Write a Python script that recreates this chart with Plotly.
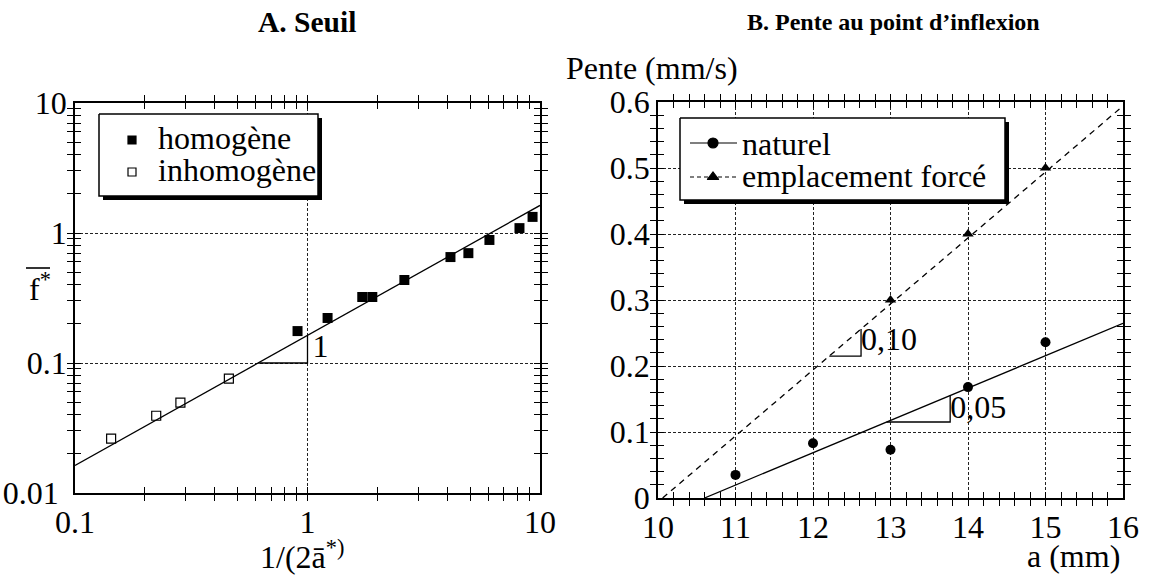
import plotly.graph_objects as go

# ---- Panel A: threshold (log-log) ----
homog_x = [0.906, 1.22, 1.72, 1.90, 2.61, 4.12, 4.92, 6.06, 8.16, 9.29]
homog_y = [0.176, 0.222, 0.322, 0.322, 0.435, 0.653, 0.70, 0.884, 1.09, 1.33]
inhomog_x = [0.143, 0.2235, 0.284, 0.459]
inhomog_y = [0.0262, 0.0393, 0.0495, 0.0757]
fitA_coef = 0.163          # f* = coef * 1/(2a*), slope 1 in log-log
fitA_x = [0.1, 10.0]

# ---- Panel B: slope at the inflection point ----
a_nat = [11, 12, 13, 14, 15]
pente_nat = [0.035, 0.083, 0.073, 0.168, 0.236]
a_force = [13, 14, 15]
pente_force = [0.30, 0.40, 0.50]
nat_slope, nat_x0 = 0.049, 10.6
force_slope, force_x0 = 0.10, 10.06

# ---- tick labels ----
xA_major = [0.1, 1, 10]
xA_labels = ["0.1", "1", "10"]
yA_major = [0.01, 0.1, 1, 10]
yA_labels = ["0.01\u00a0", "0.1", "1", "10"]
xB_major = [10, 11, 12, 13, 14, 15, 16]
yB_major = [0, 0.1, 0.2, 0.3, 0.4, 0.5, 0.6]

W, H = 1153, 588
FONT = "Liberation Serif"
FS = 32  # body text size


def px(x):
    return x / W


def py(y):
    return 1 - y / H


def log_ticks(major, labels):
    """All decade sub-ticks (1..9 x 10^k) with labels only on the decades."""
    vals, text = [], []
    for i, m in enumerate(major):
        vals.append(m)
        text.append(labels[i])
        if i < len(major) - 1:
            for k in range(2, 10):
                vals.append(m * k)
                text.append("")
    return vals, text


def lin_ticks(major, nsub, fmt):
    vals, text = [], []
    for i, m in enumerate(major):
        vals.append(m)
        text.append(fmt(m))
        if i < len(major) - 1:
            step = (major[i + 1] - m) / nsub
            for k in range(1, nsub):
                vals.append(round(m + k * step, 6))
                text.append("")
    return vals, text


xA_vals, xA_text = log_ticks(xA_major, xA_labels)
yA_vals, yA_text = log_ticks(yA_major, yA_labels)
xB_vals, xB_text = lin_ticks(xB_major, 5, lambda v: str(v))
yB_vals, yB_text = lin_ticks(yB_major, 5, lambda v: "0" if v == 0 else f"{v:.1f}")

fig = go.Figure()
line_k = dict(color="black", width=1.3)

# fitted line, panel A
fig.add_trace(go.Scatter(x=fitA_x, y=[fitA_coef * v for v in fitA_x], mode="lines",
                         line=line_k, xaxis="x", yaxis="y", hoverinfo="skip"))
# slope triangle, panel A
tri_x0 = 0.1 / fitA_coef
fig.add_trace(go.Scatter(x=[tri_x0, 1.0, 1.0], y=[0.1, 0.1, fitA_coef], mode="lines",
                         line=line_k, xaxis="x", yaxis="y", hoverinfo="skip"))
fig.add_trace(go.Scatter(x=[1.05], y=[0.128], mode="text", text=["1"],
                         textposition="middle right",
                         textfont=dict(family=FONT, size=FS, color="black"),
                         xaxis="x", yaxis="y"))
fig.add_trace(go.Scatter(x=homog_x, y=homog_y, mode="markers", name="homogène",
                         marker=dict(symbol="square", size=10, color="black"),
                         xaxis="x", yaxis="y"))
fig.add_trace(go.Scatter(x=inhomog_x, y=inhomog_y, mode="markers", name="inhomogène",
                         marker=dict(symbol="square-open", size=9, color="black",
                                     line=dict(width=1.2)),
                         xaxis="x", yaxis="y"))

# fitted lines, panel B
nat_line_x = [nat_x0, 16.0]
force_line_x = [force_x0, 16.0]
fig.add_trace(go.Scatter(x=nat_line_x, y=[nat_slope * (v - nat_x0) for v in nat_line_x],
                         mode="lines", line=line_k, xaxis="x2", yaxis="y2", hoverinfo="skip"))
fig.add_trace(go.Scatter(x=force_line_x, y=[force_slope * (v - force_x0) for v in force_line_x],
                         mode="lines", line=dict(color="black", width=1.3, dash="6px,5px"),
                         xaxis="x2", yaxis="y2", hoverinfo="skip"))
# slope triangles, panel B
tn = [12.95, 13.77]
fig.add_trace(go.Scatter(x=[tn[0], tn[1], tn[1]],
                         y=[nat_slope * (tn[0] - nat_x0), nat_slope * (tn[0] - nat_x0),
                            nat_slope * (tn[1] - nat_x0)],
                         mode="lines", line=line_k, xaxis="x2", yaxis="y2", hoverinfo="skip"))
tf = [12.21, 12.62]
fig.add_trace(go.Scatter(x=[tf[0], tf[1], tf[1]],
                         y=[force_slope * (tf[0] - force_x0), force_slope * (tf[0] - force_x0),
                            force_slope * (tf[1] - force_x0)],
                         mode="lines", line=line_k, xaxis="x2", yaxis="y2", hoverinfo="skip"))
fig.add_trace(go.Scatter(x=[tf[1], tn[1]], y=[0.236, 0.134], mode="text",
                         text=["0,10", "0,05"], textposition="middle right",
                         textfont=dict(family=FONT, size=FS, color="black"),
                         xaxis="x2", yaxis="y2"))
fig.add_trace(go.Scatter(x=a_nat, y=pente_nat, mode="markers", name="naturel",
                         marker=dict(symbol="circle", size=10, color="black"),
                         xaxis="x2", yaxis="y2"))
fig.add_trace(go.Scatter(x=a_force, y=pente_force, mode="markers", name="emplacement forcé",
                         marker=dict(symbol="triangle-up", size=10, color="black"),
                         xaxis="x2", yaxis="y2"))

# empty traces that register the grid-only overlay axes
for xa, ya in [("x3", "y"), ("x", "y3"), ("x4", "y2"), ("x2", "y4")]:
    fig.add_trace(go.Scatter(x=[None], y=[None], xaxis=xa, yaxis=ya, hoverinfo="skip"))

# ---- framed legends with drop shadow, drawn on a pixel-space overlay ----
# box: (left, top, right, bottom) in pixels; rows: (symbol, dash, y_sym, y_text, label)
legends = [
    dict(box=(99, 114, 318, 196), sym_x=132, text_x=156, line=False,
         rows=[("square", None, 140, 138, "homogène"),
               ("square-open", None, 172, 170, "inhomogène")]),
    dict(box=(680, 118, 1005, 200), sym_x=713, text_x=740, line=True,
         rows=[("circle", "solid", 143, 144, "naturel"),
               ("triangle-up", "4px,3px", 177, 176, "emplacement forcé")]),
]
SH = 4  # shadow offset
ann = []
for lg in legends:
    l, t, r, b = lg["box"]
    fig.add_trace(go.Scatter(x=[l + SH, r + SH, r + SH, l + SH, l + SH],
                             y=[t + SH, t + SH, b + SH, b + SH, t + SH],
                             mode="lines", fill="toself", fillcolor="black",
                             line=dict(width=0, color="black"),
                             xaxis="x5", yaxis="y5", hoverinfo="skip"))
    fig.add_trace(go.Scatter(x=[l, r, r, l, l], y=[t, t, b, b, t],
                             mode="lines", fill="toself", fillcolor="white",
                             line=dict(width=1.5, color="black"),
                             xaxis="x5", yaxis="y5", hoverinfo="skip"))
    for sym, dash, ys, yt, label in lg["rows"]:
        if lg["line"]:
            fig.add_trace(go.Scatter(x=[lg["sym_x"] - 23, lg["sym_x"] + 24], y=[ys, ys],
                                     mode="lines", line=dict(color="black", width=1.2, dash=dash),
                                     xaxis="x5", yaxis="y5", hoverinfo="skip"))
        msize = 10 if lg["line"] else 8
        fig.add_trace(go.Scatter(x=[lg["sym_x"]], y=[ys], mode="markers",
                                 marker=dict(symbol=sym, size=msize, color="black",
                                             line=dict(width=1.2, color="black")),
                                 xaxis="x5", yaxis="y5", hoverinfo="skip"))
        ann.append(dict(text=label, x=px(lg["text_x"]), y=py(yt), xanchor="left",
                        font=dict(size=FS)))

# frame + inside ticks on all four sides (no grid)
axis_ticks = dict(
    showline=True, linecolor="black", linewidth=1.6, mirror="allticks",
    ticks="inside", ticklen=6, tickwidth=1.3, tickcolor="black",
    showgrid=False, zeroline=False, automargin=False, tickmode="array",
    tickfont=dict(family=FONT, size=FS, color="black"),
)
# dotted grid at the labelled values only
axis_grid = dict(
    showline=False, ticks="", showticklabels=False, zeroline=False, automargin=False,
    showgrid=True, gridcolor="#222", gridwidth=1, griddash="3px,2px", tickmode="array",
)

dA_x = [px(75), px(540)]
dA_y = [py(493), py(103)]
dB_x = [px(658), px(1123)]
dB_y = [py(498), py(102)]

fig.update_layout(
    width=W, height=H,
    margin=dict(l=0, r=0, t=0, b=0, pad=0),
    paper_bgcolor="white", plot_bgcolor="rgba(0,0,0,0)",
    font=dict(family=FONT, color="black"),
    showlegend=False,
    xaxis=dict(axis_ticks, type="log", range=[-1, 1], domain=dA_x,
               tickvals=xA_vals, ticktext=xA_text, anchor="y"),
    yaxis=dict(axis_ticks, type="log", range=[-2, 1], domain=dA_y,
               tickvals=yA_vals, ticktext=yA_text, anchor="x"),
    xaxis3=dict(axis_grid, type="log", range=[-1, 1], domain=dA_x,
                tickvals=xA_major, overlaying="x", anchor="y"),
    yaxis3=dict(axis_grid, type="log", range=[-2, 1], domain=dA_y,
                tickvals=yA_major, overlaying="y", anchor="x"),
    xaxis2=dict(axis_ticks, range=[10, 16], domain=dB_x,
                tickvals=xB_vals, ticktext=xB_text, anchor="y2"),
    yaxis2=dict(axis_ticks, range=[0, 0.6], domain=dB_y,
                tickvals=yB_vals, ticktext=yB_text, anchor="x2"),
    xaxis4=dict(axis_grid, range=[10, 16], domain=dB_x,
                tickvals=xB_major, overlaying="x2", anchor="y2"),
    yaxis4=dict(axis_grid, range=[0, 0.6], domain=dB_y,
                tickvals=yB_major, overlaying="y2", anchor="x2"),
    xaxis5=dict(range=[0, W], domain=[0, 1], visible=False, anchor="y5", automargin=False),
    yaxis5=dict(range=[H, 0], domain=[0, 1], visible=False, anchor="x5", automargin=False),
)

ann.append(dict(text="<b>A. Seuil</b>", x=px(307), y=py(22), font=dict(size=29.5)))
ann.append(dict(text="<b>B. Pente au point d’inflexion</b>", x=px(893), y=py(22),
                font=dict(size=24)))
ann.append(dict(text="Pente (mm/s)", x=px(564), y=py(68), xanchor="left", font=dict(size=FS)))
ann.append(dict(text="a (mm)", x=px(1122), y=py(556), xanchor="right", font=dict(size=FS)))
ann.append(dict(text="1/(2ā<sup>*)</sup>", x=px(302), y=py(555), font=dict(size=FS)))
ann.append(dict(text="f<sup>*</sup>", x=px(40), y=py(287), font=dict(size=FS)))
for a in ann:
    a.setdefault("xanchor", "center")
    a.update(xref="paper", yref="paper", yanchor="middle", showarrow=False)
    a["font"] = dict(a["font"], family=FONT, color="black")
fig.update_layout(annotations=ann)

# bar over f*
fig.add_shape(type="line", xref="paper", yref="paper",
              x0=px(26), x1=px(50), y0=py(268), y1=py(268),
              line=dict(color="black", width=1.6))

fig.write_html("out.html")
